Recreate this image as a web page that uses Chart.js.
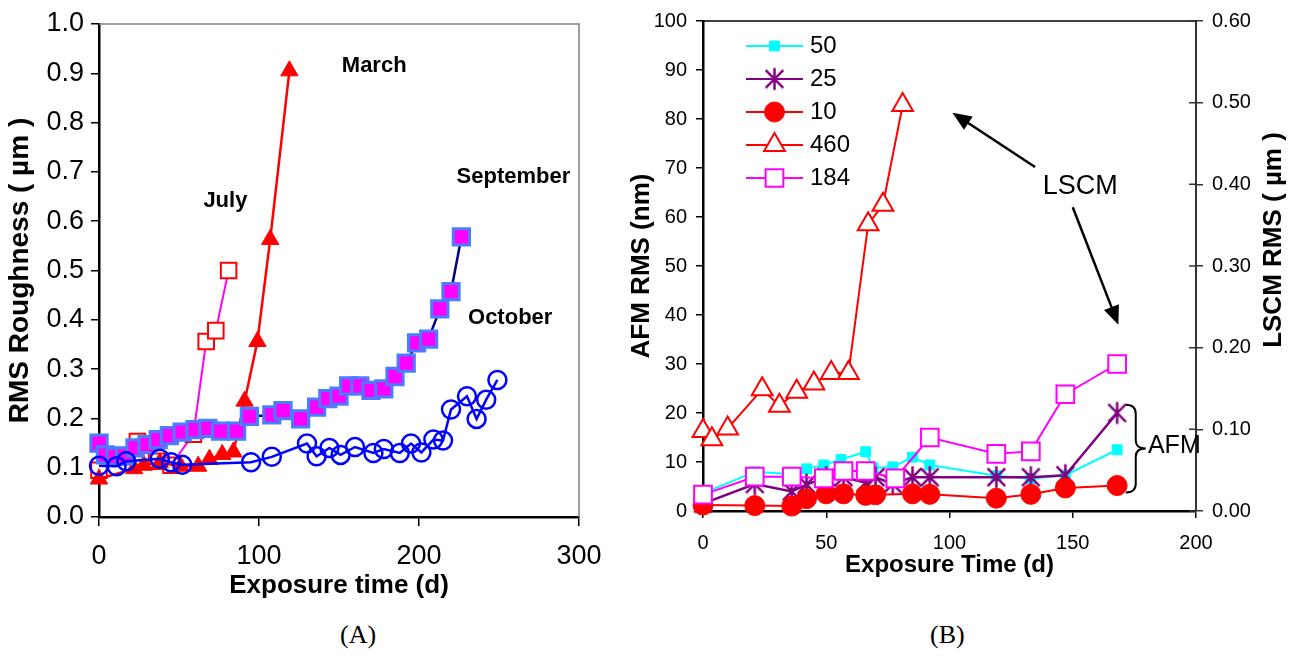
<!DOCTYPE html>
<html>
<head>
<meta charset="utf-8">
<script src="https://cdn.jsdelivr.net/npm/chart.js@4.4.0/dist/chart.umd.min.js"></script>
<style>
  body { margin: 0; background: #fff; width: 1299px; height: 660px; overflow: hidden; position: relative; }
  #wrapA { position: absolute; left: 0; top: 0; width: 620px; height: 610px; }
  #wrapB { position: absolute; left: 620px; top: 0; width: 679px; height: 610px; }
  .cap { position: absolute; top: 620px; font: 26px "Liberation Serif", "Times New Roman", serif; color: #000; }
</style>
</head>
<body>
<div id="wrapA"><canvas id="chartA" width="620" height="610"></canvas></div>
<div id="wrapB"><canvas id="chartB" width="679" height="610"></canvas></div>
<div class="cap" style="left:340px">(A)</div>
<div class="cap" style="left:930px">(B)</div>

<script>
// ---- (A) RMS roughness (µm) vs exposure time (d) ----
const julyDays = [0, 24, 36, 45, 59, 67, 73, 81];
const julyRms = [0.095, 0.153, 0.113, 0.105, 0.168, 0.356, 0.378, 0.5];

const marchDays = [0, 22, 28, 38, 51, 62, 69, 77, 84, 91, 99, 107, 119];
const marchRms = [0.077, 0.098, 0.105, 0.11, 0.103, 0.103, 0.117, 0.127, 0.132, 0.235, 0.356, 0.563, 0.905];

const septDays = [0, 4, 10, 16, 22.5, 30, 37, 44, 52, 60, 68, 76, 86, 94, 108, 115, 126, 136, 143, 150,
  156, 163, 170, 178, 185, 192, 198.5, 206, 213, 220, 226.5];
const septRms = [0.15, 0.126, 0.123, 0.124, 0.14, 0.147, 0.157, 0.165, 0.172, 0.177, 0.18, 0.174, 0.174, 0.204,
  0.207, 0.216, 0.199, 0.223, 0.24, 0.245, 0.266, 0.266, 0.257, 0.26, 0.285, 0.312, 0.353, 0.361, 0.422, 0.457, 0.568];

const octDays = [0, 11, 17, 38, 45, 52, 95, 108, 130, 136, 144, 151, 160, 171.5, 178, 188, 195, 201.5,
  209, 215, 220, 230, 236, 242, 249];
const octRms = [0.104, 0.103, 0.113, 0.118, 0.111, 0.106, 0.111, 0.122, 0.149, 0.123, 0.14, 0.126, 0.142,
  0.13, 0.138, 0.13, 0.149, 0.131, 0.157, 0.155, 0.218, 0.245, 0.199, 0.238, 0.278];

const ticksA_x = [0, 100, 200, 300];

// ---- (B) AFM RMS (nm) and LSCM RMS (µm) vs exposure time (d) ----
const afm50Days = [0, 21, 36, 42, 49, 56, 66, 69, 77, 85, 92, 119, 133, 147, 168];
const afm50 = [3.6, 8.0, 7.5, 8.6, 9.4, 10.5, 12.1, 8.8, 9.0, 11.0, 9.4, 7.2, 6.6, 7.3, 12.5];

const afm25Days = [0, 21, 36, 42, 50, 57, 66, 70, 77, 85, 92, 119, 133, 147, 168];
const afm25 = [1.5, 5.5, 4.0, 5.4, 6.9, 6.9, 5.8, 6.9, 5.5, 6.9, 6.9, 6.9, 6.9, 7.3, 20.0];

const afm10Days = [0, 21, 36, 42, 50, 57, 66, 70, 85, 92, 119, 133, 147, 168];
const afm10 = [1.2, 1.1, 1.0, 2.5, 3.5, 3.5, 3.2, 3.3, 3.5, 3.4, 2.6, 3.4, 4.7, 5.2];

const lscm460Days = [0, 3.6, 10, 24, 31, 38, 45, 52, 59, 67, 73, 81];
const lscm460 = [0.098, 0.088, 0.101, 0.149, 0.129, 0.146, 0.156, 0.169, 0.169, 0.351, 0.375, 0.497];

const lscm184Days = [0, 21, 36, 49, 57, 66, 78, 92, 119, 133, 147, 168];
const lscm184 = [0.02, 0.042, 0.042, 0.04, 0.049, 0.049, 0.04, 0.09, 0.07, 0.073, 0.143, 0.18];

const seriesB = ["50", "25", "10", "460", "184"];

Chart.defaults.font.family = '"Liberation Sans", Arial, sans-serif';
Chart.defaults.color = "#000";

function pts(xs, ys) {
  return xs.map((x, i) => ({ x: x, y: ys[i] }));
}

// asterisk marker like the spreadsheet "star"
function makeStar(size, color) {
  const c = document.createElement("canvas");
  c.width = size;
  c.height = size;
  const g = c.getContext("2d");
  g.strokeStyle = color;
  g.lineWidth = 2.5;
  const m = size / 2, r = size / 2 - 1.5, d = r * 0.8;
  g.beginPath();
  g.moveTo(m, m - r); g.lineTo(m, m + r);
  g.moveTo(m - d, m - d); g.lineTo(m + d, m + d);
  g.moveTo(m - d, m + d); g.lineTo(m + d, m - d);
  g.stroke();
  return c;
}

function arrow(ctx, x1, y1, x2, y2) {
  const a = Math.atan2(y2 - y1, x2 - x1), L = 19, W = 8;
  ctx.beginPath();
  ctx.moveTo(x1, y1);
  ctx.lineTo(x2 - Math.cos(a) * L * 0.8, y2 - Math.sin(a) * L * 0.8);
  ctx.stroke();
  ctx.beginPath();
  ctx.moveTo(x2, y2);
  ctx.lineTo(x2 - Math.cos(a) * L + Math.sin(a) * W, y2 - Math.sin(a) * L - Math.cos(a) * W);
  ctx.lineTo(x2 - Math.cos(a) * L - Math.sin(a) * W, y2 - Math.sin(a) * L + Math.cos(a) * W);
  ctx.closePath();
  ctx.fill();
}

function brace(ctx, x, y1, y2, w) {
  const ym = (y1 + y2) / 2, h = w / 2;
  ctx.beginPath();
  ctx.moveTo(x, y1);
  ctx.quadraticCurveTo(x + h, y1, x + h, y1 + 9);
  ctx.lineTo(x + h, ym - 8);
  ctx.quadraticCurveTo(x + h, ym, x + w, ym);
  ctx.quadraticCurveTo(x + h, ym, x + h, ym + 8);
  ctx.lineTo(x + h, y2 - 9);
  ctx.quadraticCurveTo(x + h, y2, x, y2);
  ctx.stroke();
}

// CHART A
const frameA = {
  id: "frameA",
  beforeDatasetsDraw(chart) {
    const { ctx, chartArea: a } = chart;
    ctx.save();
    ctx.strokeStyle = "#808080";
    ctx.lineWidth = 1.5;
    ctx.beginPath();
    ctx.moveTo(a.left, a.top);
    ctx.lineTo(a.right, a.top);
    ctx.lineTo(a.right, a.bottom);
    ctx.stroke();
    ctx.restore();
  },
  afterDraw(chart) {
    const { ctx, scales } = chart;
    const notes = [["March", 172, 0.915], ["July", 79, 0.641], ["September", 259, 0.69], ["October", 257, 0.404]];
    ctx.save();
    ctx.font = 'bold 22px "Liberation Sans", Arial, sans-serif';
    ctx.fillStyle = "#000";
    ctx.textAlign = "center";
    ctx.textBaseline = "middle";
    notes.forEach(([t, d, v]) => {
      ctx.fillText(t, scales.x.getPixelForValue(d), scales.y.getPixelForValue(v));
    });
    ctx.restore();
  },
};

new Chart(document.getElementById("chartA"), {
  type: "scatter",
  data: {
    datasets: [
      {
        label: "October", data: pts(octDays, octRms), showLine: true, order: 0,
        borderColor: "#0000ff", borderWidth: 2.5,
        pointStyle: "circle", pointRadius: 9, pointBorderWidth: 2.5,
        pointBorderColor: "#0000ff", pointBackgroundColor: "rgba(255,255,255,0)",
      },
      {
        label: "September", data: pts(septDays, septRms), showLine: true, order: 1,
        borderColor: "#000080", borderWidth: 2.5,
        pointStyle: "rect", pointRadius: 11.5, pointBorderWidth: 3,
        pointBorderColor: "#4a7dff", pointBackgroundColor: "#ff00ff",
      },
      {
        label: "March", data: pts(marchDays, marchRms), showLine: true, order: 2,
        borderColor: "#ff0000", borderWidth: 2.5,
        pointStyle: "triangle", pointRadius: 10, pointBorderWidth: 1,
        pointBorderColor: "#ff0000", pointBackgroundColor: "#ff0000",
      },
      {
        label: "July", data: pts(julyDays, julyRms), showLine: true, order: 3,
        borderColor: "#ff00ff", borderWidth: 2,
        pointStyle: "rect", pointRadius: 11, pointBorderWidth: 2,
        pointBorderColor: "#ff0000", pointBackgroundColor: "#ffffff",
      },
    ],
  },
  options: {
    responsive: false,
    animation: false,
    clip: false,
    layout: { padding: { top: 24, right: 41, left: 0, bottom: 0 } },
    plugins: { legend: { display: false }, tooltip: { enabled: false } },
    scales: {
      x: {
        type: "linear", min: 0, max: 300,
        afterFit: (s) => { s.height = 93; },
        afterBuildTicks: (s) => { s.ticks = ticksA_x.map((v) => ({ value: v })); },
        ticks: { font: { size: 27 }, padding: 14, maxRotation: 0 },
        grid: { drawOnChartArea: false, color: "#000", lineWidth: 1.5, tickLength: 9 },
        border: { color: "#000", width: 2.5 },
        title: { display: true, text: "Exposure time (d)", font: { size: 26, weight: "bold" }, padding: { top: 0, bottom: 9 } },
      },
      y: {
        min: 0, max: 1,
        afterFit: (s) => { s.width = 99; },
        ticks: { stepSize: 0.1, font: { size: 27 }, padding: 7, callback: (v) => v.toFixed(1) },
        grid: { drawOnChartArea: false, color: "#000", lineWidth: 1.5, tickLength: 8 },
        border: { color: "#000", width: 2.5 },
        title: { display: true, text: "RMS Roughness ( µm )", font: { size: 28, weight: "bold" }, padding: { top: 3, bottom: 0 } },
      },
    },
  },
  plugins: [frameA],
});

// CHART B
const starPurple = makeStar(25, "#800080");

const decoB = {
  id: "decoB",
  beforeDatasetsDraw(chart) {
    const { ctx, chartArea: a, scales } = chart;
    ctx.save();
    ctx.strokeStyle = "#000";
    ctx.lineWidth = 1.5;
    ctx.beginPath();
    ctx.moveTo(a.left, a.top);
    ctx.lineTo(a.right, a.top);
    ctx.stroke();
    // inner half of the right-axis tick marks
    ctx.strokeStyle = "#333";
    ctx.beginPath();
    scales.y1.ticks.forEach((t) => {
      const py = scales.y1.getPixelForValue(t.value);
      ctx.moveTo(a.right - 7, py);
      ctx.lineTo(a.right, py);
    });
    ctx.stroke();
    ctx.restore();
  },
  afterDraw(chart) {
    const { ctx, chartArea: a, scales } = chart;
    const X = (d) => scales.x.getPixelForValue(d);
    const Y = (v) => scales.y.getPixelForValue(v);
    ctx.save();

    // legend
    ctx.font = '24px "Liberation Sans", Arial, sans-serif';
    ctx.textBaseline = "middle";
    ctx.textAlign = "left";
    chart.data.datasets.forEach((ds, i) => {
      const y = a.top + 25 + 33 * i;
      const x1 = a.left + 43, x2 = a.left + 100;
      ctx.strokeStyle = ds.borderColor;
      ctx.lineWidth = 2;
      ctx.beginPath();
      ctx.moveTo(x1, y);
      ctx.lineTo(x2, y);
      ctx.stroke();
      ctx.fillStyle = ds.pointBackgroundColor;
      ctx.strokeStyle = ds.pointBorderColor;
      ctx.lineWidth = ds.pointBorderWidth;
      Chart.helpers.drawPoint(ctx, { pointStyle: ds.pointStyle, radius: ds.pointRadius, borderWidth: ds.pointBorderWidth, rotation: 0 }, (x1 + x2) / 2, y);
      ctx.fillStyle = "#000";
      ctx.fillText(ds.label, x2 + 7, y);
    });

    // LSCM label and arrows
    ctx.fillStyle = "#000";
    ctx.strokeStyle = "#000";
    ctx.lineWidth = 2.5;
    ctx.font = '27px "Liberation Sans", Arial, sans-serif';
    ctx.textAlign = "center";
    ctx.fillText("LSCM", X(153), Y(66.3));
    arrow(ctx, X(134.7), Y(70.2), X(101.2), Y(81.3));
    arrow(ctx, X(150), Y(62), X(168.5), Y(38));

    // AFM brace
    ctx.lineWidth = 2;
    brace(ctx, X(171.5), Y(21.7), Y(3.8), 20);
    ctx.font = '25px "Liberation Sans", Arial, sans-serif';
    ctx.textAlign = "left";
    ctx.fillText("AFM", X(180.5), Y(13.2));

    // right axis title, reading upwards
    ctx.translate(654, 240);
    ctx.rotate(-Math.PI / 2);
    ctx.font = 'bold 26px "Liberation Sans", Arial, sans-serif';
    ctx.textAlign = "center";
    ctx.fillText("LSCM RMS ( µm )", 0, 0);
    ctx.restore();
  },
};

const colorsB = ["#00ffff", "#800080", "#ff0000", "#ff0000", "#ff00ff"];

new Chart(document.getElementById("chartB"), {
  type: "scatter",
  data: {
    datasets: [
      {
        label: seriesB[0], data: pts(afm50Days, afm50), showLine: true, order: 4,
        borderColor: colorsB[0], borderWidth: 2,
        pointStyle: "rect", pointRadius: 7, pointBorderWidth: 1,
        pointBorderColor: colorsB[0], pointBackgroundColor: colorsB[0],
      },
      {
        label: seriesB[1], data: pts(afm25Days, afm25), showLine: true, order: 3,
        borderColor: colorsB[1], borderWidth: 2.5,
        pointStyle: starPurple, pointRadius: 12, pointBorderWidth: 2,
        pointBorderColor: colorsB[1], pointBackgroundColor: colorsB[1],
      },
      {
        label: seriesB[2], data: pts(afm10Days, afm10), showLine: true, order: 2,
        borderColor: colorsB[2], borderWidth: 2,
        pointStyle: "circle", pointRadius: 10, pointBorderWidth: 1,
        pointBorderColor: colorsB[2], pointBackgroundColor: colorsB[2],
      },
      {
        label: seriesB[3], data: pts(lscm460Days, lscm460), yAxisID: "y1", showLine: true, order: 1,
        borderColor: colorsB[3], borderWidth: 2,
        pointStyle: "triangle", pointRadius: 12, pointBorderWidth: 2,
        pointBorderColor: colorsB[3], pointBackgroundColor: "#ffffff",
      },
      {
        label: seriesB[4], data: pts(lscm184Days, lscm184), yAxisID: "y1", showLine: true, order: 0,
        borderColor: colorsB[4], borderWidth: 2,
        pointStyle: "rect", pointRadius: 12.5, pointBorderWidth: 2,
        pointBorderColor: colorsB[4], pointBackgroundColor: "#ffffff",
      },
    ],
  },
  options: {
    responsive: false,
    animation: false,
    clip: false,
    layout: { padding: { top: 15, right: 0, left: 0, bottom: 0 } },
    plugins: { legend: { display: false }, tooltip: { enabled: false } },
    scales: {
      x: {
        type: "linear", min: 0, max: 200,
        afterFit: (s) => { s.height = 99; },
        ticks: { stepSize: 50, font: { size: 20 }, padding: 13, maxRotation: 0 },
        grid: { drawOnChartArea: false, color: "#000", lineWidth: 1.5, tickLength: 7 },
        border: { color: "#000", width: 2.5 },
        title: { display: true, text: "Exposure Time (d)", font: { size: 24, weight: "bold" }, padding: { top: 0, bottom: 30 } },
      },
      y: {
        min: 0, max: 100,
        afterFit: (s) => { s.width = 83; },
        ticks: { stepSize: 10, font: { size: 20 }, padding: 9 },
        grid: { drawOnChartArea: false, color: "#000", lineWidth: 1.5, tickLength: 7 },
        border: { color: "#000", width: 2.5 },
        title: { display: true, text: "AFM RMS (nm)", font: { size: 26, weight: "bold" }, padding: { top: 6, bottom: 0 } },
      },
      y1: {
        position: "right", min: 0, max: 0.6,
        afterFit: (s) => { s.width = 103; },
        ticks: { stepSize: 0.1, font: { size: 20 }, padding: 9, callback: (v) => v.toFixed(2) },
        grid: { drawOnChartArea: false, color: "#333", lineWidth: 1.5, tickLength: 7 },
        border: { color: "#333", width: 2 },
      },
    },
  },
  plugins: [decoB],
});
</script>
</body>
</html>
